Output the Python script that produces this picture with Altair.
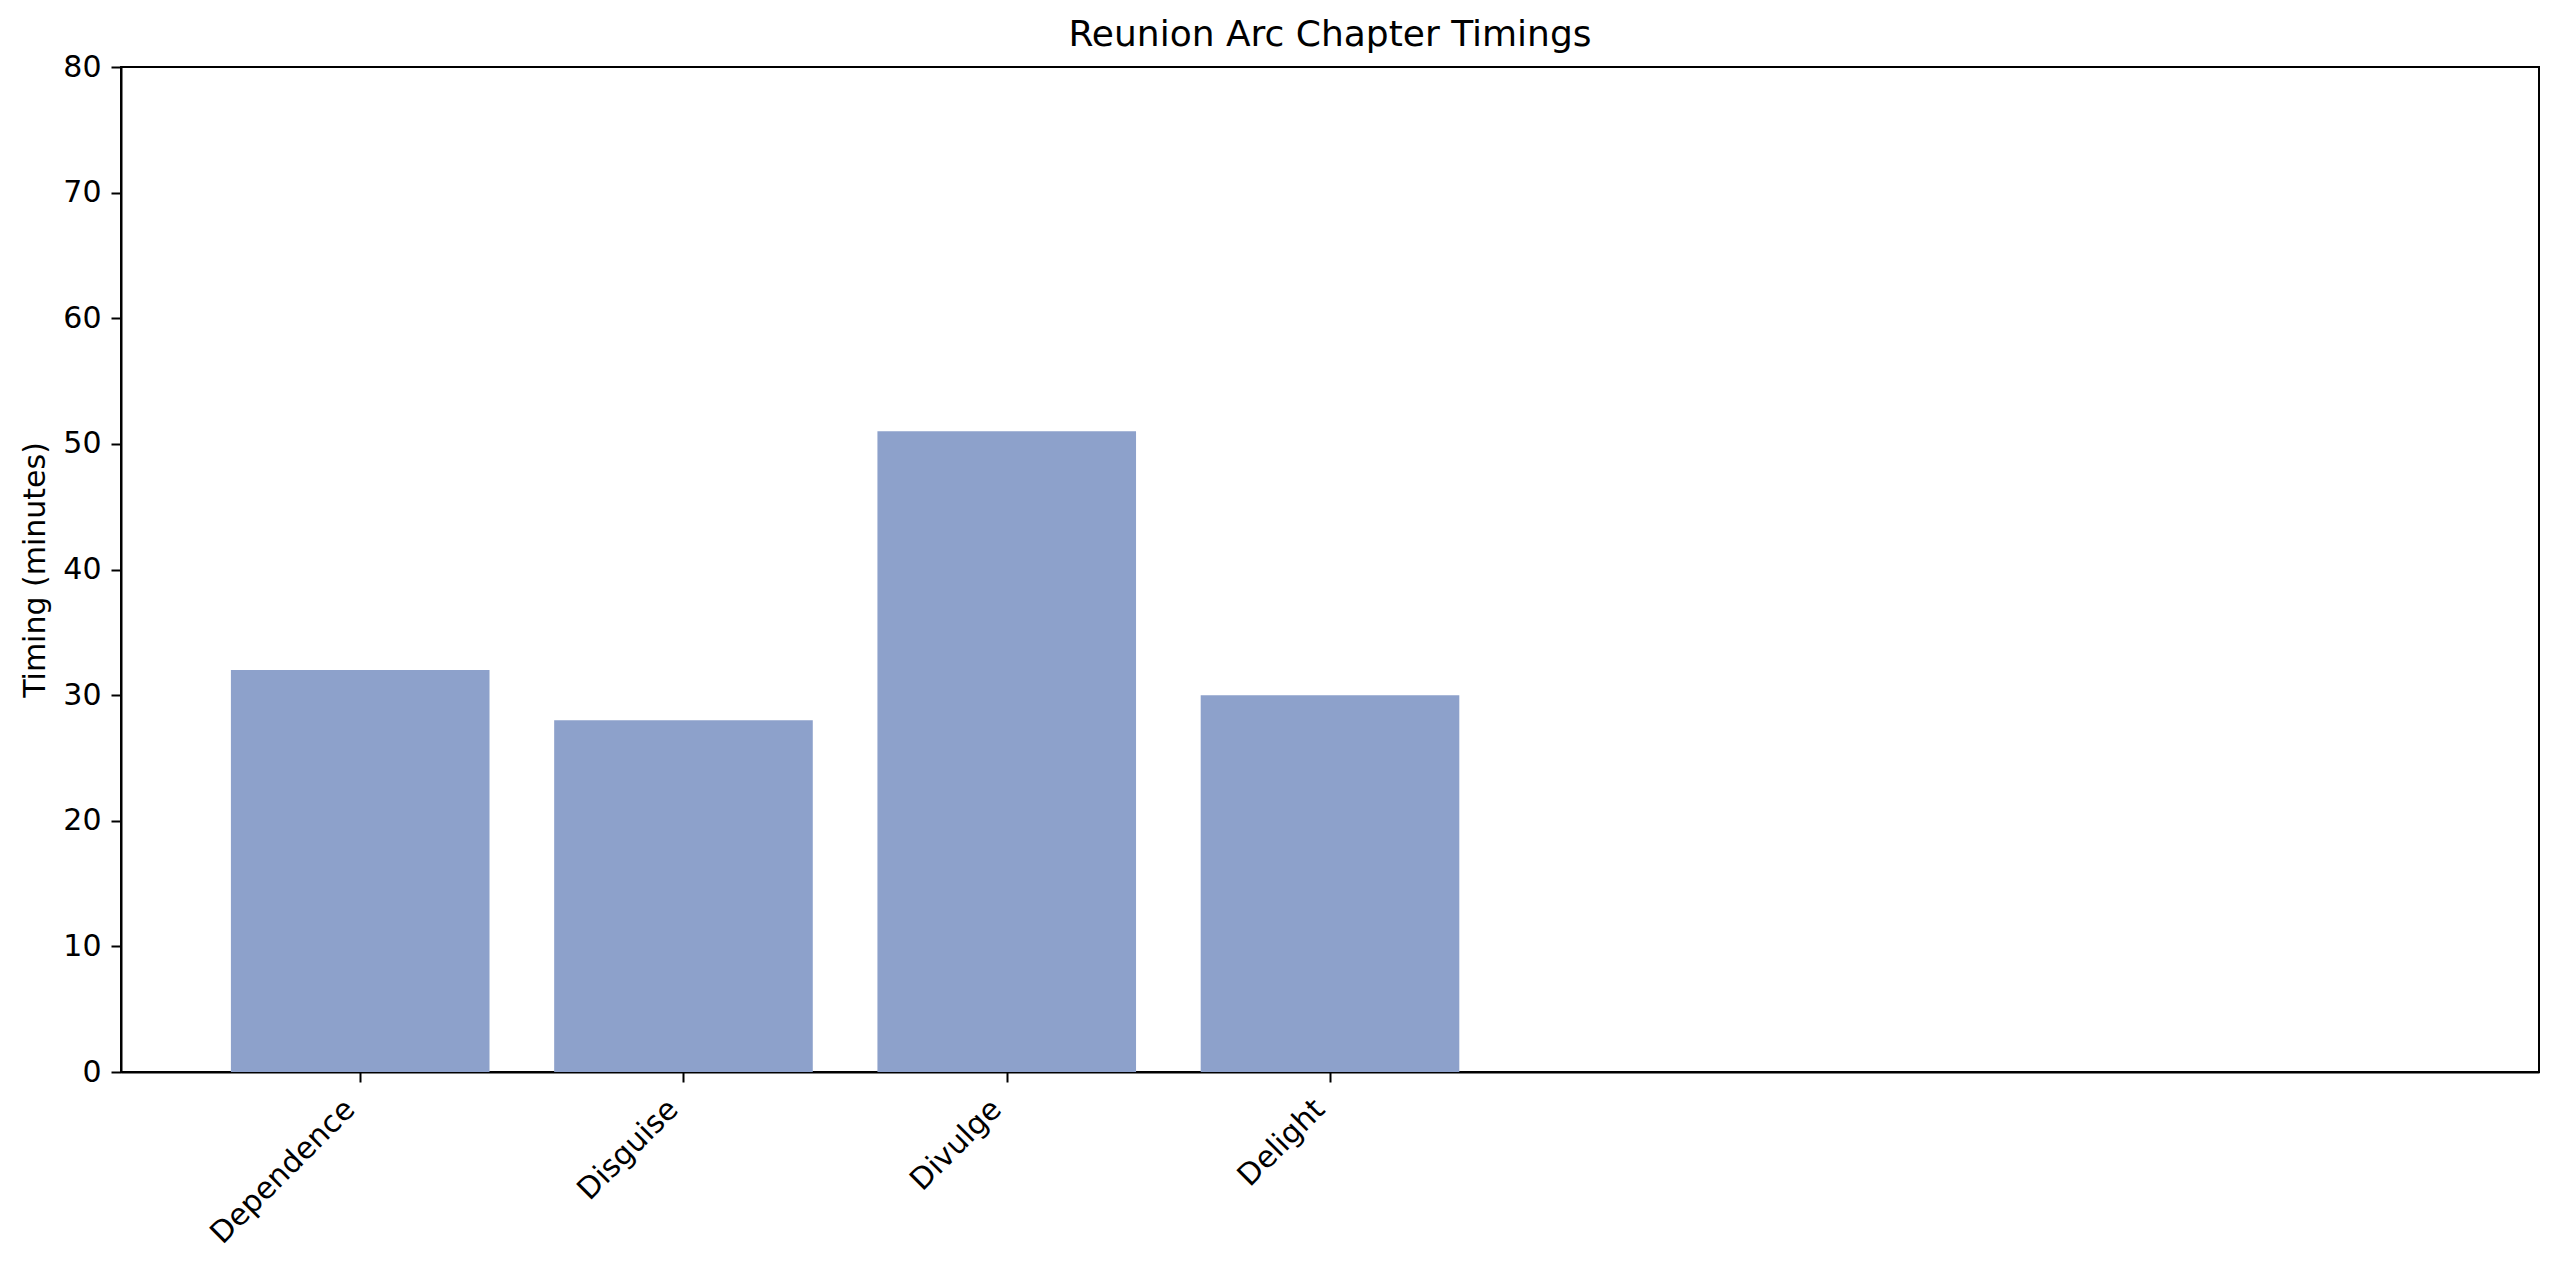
import altair as alt
import pandas as pd

categories = ["Dependence", "Disguise", "Divulge", "Delight"]
positions = [0, 1, 2, 3]
timings = [32, 28, 51, 30]
y_ticks = [0, 10, 20, 30, 40, 50, 60, 70, 80]

df = pd.DataFrame({"chapter": categories, "idx": positions, "timing": timings})

FONT = "DejaVu Sans"
label_expr = "[" + ",".join(f"'{c}'" for c in categories) + "][datum.value]"

chart = (
    alt.Chart(df)
    .transform_calculate(x0="datum.idx - 0.4", x1="datum.idx + 0.4")
    .mark_bar(color="#8da1cb")
    .encode(
        x=alt.X(
            "x0:Q",
            scale=alt.Scale(domain=[-0.74, 6.74], nice=False, zero=False),
            axis=alt.Axis(
                values=positions,
                labelExpr=label_expr,
                title=None,
                labelAngle=-45,
                labelAlign="right",
                labelBaseline="bottom",
                labelFlush=False,
                labelLimit=1000,
                labelFont=FONT,
                labelFontSize=30,
                labelColor="black",
                labelPadding=33,
                tickColor="black",
                tickSize=10,
                tickWidth=2,
                domainColor="black",
                domainWidth=2,
                grid=False,
            ),
        ),
        x2="x1:Q",
        y=alt.Y(
            "timing:Q",
            scale=alt.Scale(domain=[0, 80], nice=False),
            axis=alt.Axis(
                values=y_ticks,
                title="Timing (minutes)",
                titleFont=FONT,
                titleFontSize=30,
                titleFontWeight="normal",
                titleColor="black",
                titlePadding=12,
                labelFont=FONT,
                labelFontSize=30,
                labelColor="black",
                labelPadding=10,
                labelFlush=False,
                tickColor="black",
                tickSize=10,
                tickWidth=2,
                domainColor="black",
                domainWidth=2,
                grid=False,
            ),
        ),
        y2=alt.datum(0),
        tooltip=["chapter:N", "timing:Q"],
    )
    .properties(
        width=2418,
        height=1005,
        autosize=alt.AutoSizeParams(type="none"),
        padding={"left": 113, "top": 59, "right": 13, "bottom": 180},
        background="white",
        title=alt.TitleParams(
            "Reunion Arc Chapter Timings",
            font=FONT,
            fontSize=36,
            fontWeight="normal",
            color="black",
            anchor="middle",
            offset=-2,
        ),
    )
    .configure_view(stroke="black", strokeWidth=2)
)

chart.save("out.html", embed_options={"renderer": "svg", "actions": False})
